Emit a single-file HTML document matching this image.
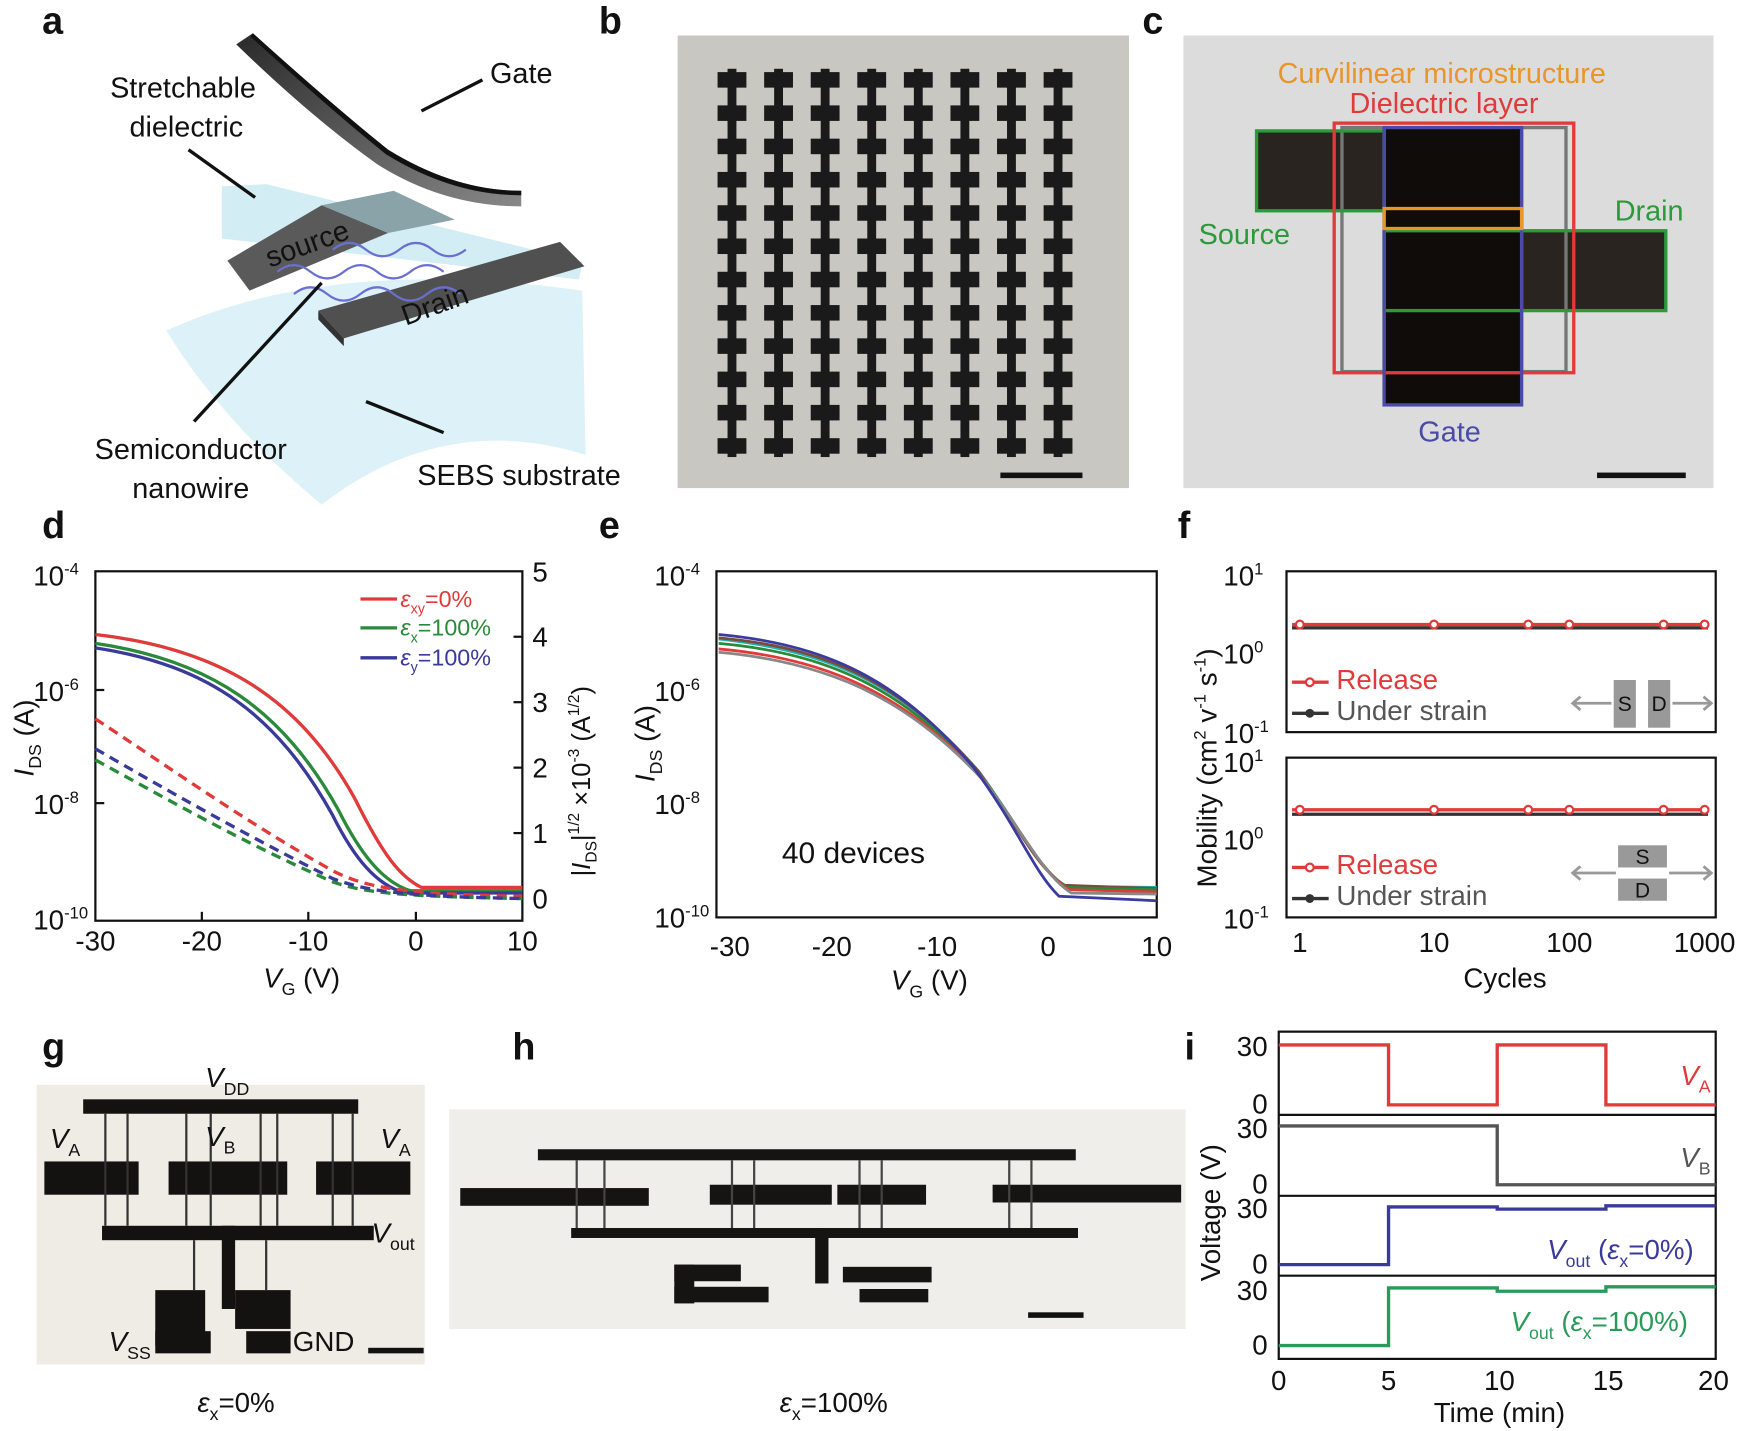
<!DOCTYPE html>
<html><head><meta charset="utf-8"><style>html,body{margin:0;padding:0;background:#fff}svg{display:block}</style></head><body>
<svg width="1739" height="1431" viewBox="0 0 1568 1290" preserveAspectRatio="none" font-family="Liberation Sans, Arial, sans-serif" xmlns="http://www.w3.org/2000/svg">
<rect width="1568" height="1290" fill="#fff"/>
<defs>
<linearGradient id="gg" x1="0" y1="0" x2="1" y2="1"><stop offset="0" stop-color="#2a2a2a"/><stop offset="1" stop-color="#888"/></linearGradient>
</defs>
<g font-weight="bold" font-size="34" fill="#111">
<text x="38" y="30">a</text><text x="540" y="30">b</text><text x="1030" y="30">c</text>
<text x="38" y="485">d</text><text x="540" y="485">e</text><text x="1062" y="485">f</text>
<text x="38" y="955">g</text><text x="462" y="955">h</text><text x="1068" y="955">i</text>
</g>
<!-- a illustration -->
<path d="M150,298 Q300,230 525,262 L528,410 Q400,370 290,455 Q200,380 150,298Z" fill="#d8f1f7" opacity="0.9"/>
<path d="M200,168 L240,166 L525,236 L522,252 L200,215Z" fill="#bfe6ef" opacity="0.7"/>
<path d="M205,235 L290,185 L350,210 L225,262Z" fill="#5a5a5a"/>
<path d="M290,185 L355,172 L410,198 L350,210Z" fill="#8aa3a8"/>
<path d="M287,280 L505,218 L527,240 L310,305Z" fill="#505050"/>
<path d="M287,280 L310,305 L310,312 L287,288Z" fill="#333"/>
<g fill="none" stroke="#6a6fd0" stroke-width="2">
<path d="M250,245 q15,-12 30,0 q15,12 30,0 q15,-12 30,0 q15,12 30,0 q15,-12 30,0"/>
<path d="M265,265 q15,-12 30,0 q15,12 30,0 q15,-12 30,0 q15,12 30,0 q15,-12 30,0"/>
<path d="M300,225 q15,-12 30,0 q15,12 30,0 q15,-12 30,0 q15,12 30,0"/>
</g>
<path d="M213,40 L228,30 Q300,95 350,135 Q410,172 470,172 L470,186 Q400,186 340,148 Q280,105 213,40Z" fill="url(#gg)"/>
<path d="M228,30 Q300,95 350,135 Q410,172 470,172 L470,176 Q408,176 348,139 Q298,99 226,33Z" fill="#111"/>
<g stroke="#111" stroke-width="3"><line x1="435" y1="72" x2="380" y2="100"/><line x1="170" y1="135" x2="230" y2="178"/><line x1="290" y1="255" x2="175" y2="380"/><line x1="330" y1="362" x2="400" y2="390"/></g>
<g font-size="26" fill="#111" text-anchor="middle">
<text x="470" y="75">Gate</text><text x="165" y="88">Stretchable</text><text x="168" y="123">dielectric</text>
<text x="172" y="414">Semiconductor</text><text x="172" y="449">nanowire</text><text x="468" y="437">SEBS substrate</text>
<text x="280" y="228" transform="rotate(-20 280 228)">source</text><text x="395" y="283" transform="rotate(-20 395 283)">Drain</text>
</g>
<!-- b photo -->
<rect x="611" y="32" width="407" height="408" fill="#c9c7c2"/>
<g fill="#1a1a1a">
<g id="col">
<rect x="647" y="65" width="26" height="14"/><rect x="647" y="95" width="26" height="14"/><rect x="647" y="125" width="26" height="14"/><rect x="647" y="155" width="26" height="14"/><rect x="647" y="185" width="26" height="14"/><rect x="647" y="215" width="26" height="14"/><rect x="647" y="245" width="26" height="14"/><rect x="647" y="275" width="26" height="14"/><rect x="647" y="305" width="26" height="14"/><rect x="647" y="335" width="26" height="14"/><rect x="647" y="365" width="26" height="14"/><rect x="647" y="395" width="26" height="14"/>
<rect x="656" y="62" width="8" height="350"/>
</g>
<use href="#col" x="42"/><use href="#col" x="84"/><use href="#col" x="126"/><use href="#col" x="168"/><use href="#col" x="210"/><use href="#col" x="252"/><use href="#col" x="294"/>
</g>
<rect x="902" y="426" width="74" height="5" fill="#111"/>
<!-- c photo -->
<rect x="1067" y="32" width="478" height="408" fill="#dcdcdc"/>
<rect x="1133" y="118" width="115" height="72" fill="#2a2420"/>
<rect x="1372" y="208" width="130" height="72" fill="#2a2420"/>
<rect x="1248" y="115" width="124" height="250" fill="#0f0c0a"/>
<rect x="1210" y="115" width="38" height="220" fill="none" stroke="#777" stroke-width="3"/>
<rect x="1372" y="115" width="40" height="220" fill="none" stroke="#777" stroke-width="3"/>
<rect x="1133" y="118" width="115" height="72" fill="none" stroke="#2a9a3a" stroke-width="3"/>
<rect x="1248" y="208" width="254" height="72" fill="none" stroke="#2a9a3a" stroke-width="3"/>
<rect x="1203" y="111" width="216" height="225" fill="none" stroke="#e03a3a" stroke-width="3"/>
<rect x="1248" y="115" width="124" height="250" fill="none" stroke="#4a4aa8" stroke-width="3"/>
<rect x="1248" y="188" width="124" height="18" fill="none" stroke="#e8952a" stroke-width="3"/>
<rect x="1440" y="426" width="80" height="5" fill="#111"/>
<g font-size="26" text-anchor="middle">
<text x="1300" y="75" fill="#e8952a">Curvilinear microstructure</text>
<text x="1302" y="102" fill="#e03a3a">Dielectric layer</text>
<text x="1122" y="220" fill="#2a9a3a">Source</text><text x="1487" y="199" fill="#2a9a3a">Drain</text>
<text x="1307" y="398" fill="#4a4aa8">Gate</text>
</g>
<!-- d -->
<g font-size="25" fill="#111">
<rect x="86" y="515" width="385" height="315" fill="none" stroke="#111" stroke-width="2"/>
<g stroke="#111" stroke-width="2"><line x1="86" y1="622" x2="94" y2="622"/><line x1="86" y1="724" x2="94" y2="724"/><line x1="471" y1="574" x2="463" y2="574"/><line x1="471" y1="633" x2="463" y2="633"/><line x1="471" y1="692" x2="463" y2="692"/><line x1="471" y1="751" x2="463" y2="751"/>
<line x1="182" y1="830" x2="182" y2="822"/><line x1="278" y1="830" x2="278" y2="822"/><line x1="375" y1="830" x2="375" y2="822"/></g>
<text x="30" y="528">10<tspan font-size="15" dy="-10">-4</tspan></text>
<text x="30" y="632">10<tspan font-size="15" dy="-10">-6</tspan></text>
<text x="30" y="734">10<tspan font-size="15" dy="-10">-8</tspan></text>
<text x="30" y="838">10<tspan font-size="15" dy="-10">-10</tspan></text>
<g text-anchor="start"><text x="480" y="524">5</text><text x="480" y="583">4</text><text x="480" y="642">3</text><text x="480" y="701">2</text><text x="480" y="760">1</text><text x="480" y="819">0</text></g>
<g text-anchor="middle"><text x="86" y="857">-30</text><text x="182" y="857">-20</text><text x="278" y="857">-10</text><text x="375" y="857">0</text><text x="471" y="857">10</text>
<text x="272" y="890"><tspan font-style="italic">V</tspan><tspan font-size="16" dy="7">G</tspan><tspan dy="-7"> (V)</tspan></text></g>
<text transform="translate(30,700) rotate(-90)"><tspan font-style="italic">I</tspan><tspan font-size="16" dy="7">DS</tspan><tspan dy="-7"> (A)</tspan></text>
<text transform="translate(532,790) rotate(-90)" font-size="23">|<tspan font-style="italic">I</tspan><tspan font-size="14" dy="6">DS</tspan><tspan dy="-6">|</tspan><tspan font-size="14" dy="-10">1/2</tspan><tspan dy="10"> ×10</tspan><tspan font-size="14" dy="-10">-3</tspan><tspan dy="10"> (A</tspan><tspan font-size="14" dy="-10">1/2</tspan><tspan dy="10">)</tspan></text>
</g>
<g fill="none" stroke-width="3">
<path d="M86,572 C200,585 270,630 320,720 C345,770 360,790 380,800 L471,800" stroke="#e03a3a"/>
<path d="M86,580 C190,595 255,640 305,730 C325,770 345,795 370,803 L471,803" stroke="#2a8a3a"/>
<path d="M86,584 C190,600 250,645 300,735 C320,775 340,798 365,805 L471,805" stroke="#3a3a9a"/>
<path d="M86,648 C150,690 220,740 300,785 C330,800 360,806 471,808" stroke="#e03a3a" stroke-dasharray="9,6"/>
<path d="M86,685 C150,720 220,760 300,795 C330,805 360,808 471,810" stroke="#2a8a3a" stroke-dasharray="9,6"/>
<path d="M86,675 C150,712 220,752 300,792 C330,803 360,808 471,810" stroke="#3a3a9a" stroke-dasharray="9,6"/>
<line x1="325" y1="540" x2="358" y2="540" stroke="#e03a3a"/><line x1="325" y1="566" x2="358" y2="566" stroke="#2a8a3a"/><line x1="325" y1="593" x2="358" y2="593" stroke="#3a3a9a"/>
</g>
<g font-size="21">
<text x="361" y="547" fill="#e03a3a"><tspan font-style="italic">ε</tspan><tspan font-size="13" dy="6">xy</tspan><tspan dy="-6">=0%</tspan></text>
<text x="361" y="573" fill="#2a8a3a"><tspan font-style="italic">ε</tspan><tspan font-size="13" dy="6">x</tspan><tspan dy="-6">=100%</tspan></text>
<text x="361" y="600" fill="#3a3a9a"><tspan font-style="italic">ε</tspan><tspan font-size="13" dy="6">y</tspan><tspan dy="-6">=100%</tspan></text>
</g>
<!-- e -->
<g font-size="25" fill="#111">
<rect x="646" y="515" width="397" height="312" fill="none" stroke="#111" stroke-width="2"/>
<text x="590" y="528">10<tspan font-size="15" dy="-10">-4</tspan></text>
<text x="590" y="632">10<tspan font-size="15" dy="-10">-6</tspan></text>
<text x="590" y="734">10<tspan font-size="15" dy="-10">-8</tspan></text>
<text x="590" y="836">10<tspan font-size="15" dy="-10">-10</tspan></text>
<g text-anchor="middle"><text x="658" y="862">-30</text><text x="750" y="862">-20</text><text x="845" y="862">-10</text><text x="945" y="862">0</text><text x="1043" y="862">10</text>
<text x="838" y="892"><tspan font-style="italic">V</tspan><tspan font-size="16" dy="7">G</tspan><tspan dy="-7"> (V)</tspan></text></g>
<text transform="translate(590,705) rotate(-90)"><tspan font-style="italic">I</tspan><tspan font-size="16" dy="7">DS</tspan><tspan dy="-7"> (A)</tspan></text>
<text x="705" y="778" font-size="27">40 devices</text>
</g>
<g fill="none" stroke-width="2.5">
<path d="M648,576 C760,588 822,626 883,696 C921,748 937,784 961,799 L1043,800" stroke="#20b0b0"/>
<path d="M648,575 C760,585 820,625 882,695 C920,748 935,783 960,798 L1043,801" stroke="#7a4a3a"/>
<path d="M648,580 C760,590 822,630 885,700 C922,750 938,785 962,800 L1043,802" stroke="#2a8a3a"/>
<path d="M648,585 C760,595 824,635 887,703 C924,753 940,788 964,802 L1043,804" stroke="#e03a3a"/>
<path d="M648,588 C760,598 826,638 889,706 C926,756 942,790 966,805 L1043,806" stroke="#888"/>
<path d="M648,572 C758,582 818,622 878,692 C918,746 932,786 955,808 L1043,812" stroke="#3a3aa0"/>
</g>
<!-- f -->
<g font-size="25" fill="#111">
<rect x="1160" y="515" width="387" height="145" fill="none" stroke="#111" stroke-width="2"/>
<rect x="1160" y="683" width="387" height="144" fill="none" stroke="#111" stroke-width="2"/>
<text x="1103" y="528">10<tspan font-size="15" dy="-10">1</tspan></text><text x="1103" y="598">10<tspan font-size="15" dy="-10">0</tspan></text><text x="1103" y="670">10<tspan font-size="15" dy="-10">-1</tspan></text>
<text x="1103" y="696">10<tspan font-size="15" dy="-10">1</tspan></text><text x="1103" y="766">10<tspan font-size="15" dy="-10">0</tspan></text><text x="1103" y="837">10<tspan font-size="15" dy="-10">-1</tspan></text>
<g text-anchor="middle"><text x="1172" y="858">1</text><text x="1293" y="858">10</text><text x="1415" y="858">100</text><text x="1537" y="858">1000</text><text x="1357" y="890">Cycles</text></g>
<text transform="translate(1097,800) rotate(-90)">Mobility (cm<tspan font-size="15" dy="-10">2</tspan><tspan dy="10"> v</tspan><tspan font-size="15" dy="-10">-1</tspan><tspan dy="10"> s</tspan><tspan font-size="15" dy="-10">-1</tspan><tspan dy="10">)</tspan></text>
<text x="1205" y="621" fill="#e03a3a">Release</text><text x="1205" y="649" fill="#555">Under strain</text>
<text x="1205" y="788" fill="#e03a3a">Release</text><text x="1205" y="816" fill="#555">Under strain</text>
</g>
<g stroke-width="3" fill="#fff">
<line x1="1165" y1="563" x2="1540" y2="563" stroke="#e03a3a"/><line x1="1165" y1="566" x2="1540" y2="566" stroke="#333"/>
<line x1="1165" y1="730" x2="1540" y2="730" stroke="#e03a3a"/><line x1="1165" y1="734" x2="1540" y2="734" stroke="#333"/>
<line x1="1165" y1="615" x2="1198" y2="615" stroke="#e03a3a"/><line x1="1165" y1="643" x2="1198" y2="643" stroke="#333"/>
<line x1="1165" y1="782" x2="1198" y2="782" stroke="#e03a3a"/><line x1="1165" y1="810" x2="1198" y2="810" stroke="#333"/>
<g stroke="#e03a3a" stroke-width="2"><circle cx="1172" cy="563" r="3.5"/><circle cx="1293" cy="563" r="3.5"/><circle cx="1378" cy="563" r="3.5"/><circle cx="1415" cy="563" r="3.5"/><circle cx="1500" cy="563" r="3.5"/><circle cx="1537" cy="563" r="3.5"/><circle cx="1181" cy="615" r="3.5"/>
<circle cx="1172" cy="730" r="3.5"/><circle cx="1293" cy="730" r="3.5"/><circle cx="1378" cy="730" r="3.5"/><circle cx="1415" cy="730" r="3.5"/><circle cx="1500" cy="730" r="3.5"/><circle cx="1537" cy="730" r="3.5"/><circle cx="1181" cy="782" r="3.5"/></g>
<g fill="#333" stroke="none"><circle cx="1181" cy="643" r="4"/><circle cx="1181" cy="810" r="4"/></g>
</g>
<g fill="#999"><rect x="1455" y="613" width="20" height="43"/><rect x="1486" y="613" width="20" height="43"/><rect x="1459" y="762" width="44" height="20"/><rect x="1459" y="792" width="44" height="20"/></g>
<g stroke="#999" stroke-width="2.5" fill="none"><line x1="1418" y1="634" x2="1453" y2="634"/><line x1="1508" y1="634" x2="1543" y2="634"/><line x1="1418" y1="787" x2="1457" y2="787"/><line x1="1505" y1="787" x2="1543" y2="787"/>
<path d="M1425,628 L1418,634 L1425,640"/><path d="M1536,628 L1543,634 L1536,640"/><path d="M1425,781 L1418,787 L1425,793"/><path d="M1536,781 L1543,787 L1536,793"/></g>
<g font-size="19" fill="#111" text-anchor="middle"><text x="1465" y="641">S</text><text x="1496" y="641">D</text><text x="1481" y="779">S</text><text x="1481" y="809">D</text></g>
<!-- g photo -->
<rect x="33" y="978" width="350" height="252" fill="#efece6"/>
<g fill="#141210">
<rect x="75" y="991" width="248" height="13"/><rect x="40" y="1047" width="85" height="30"/><rect x="152" y="1047" width="107" height="30"/><rect x="285" y="1047" width="85" height="30"/>
<rect x="92" y="1105" width="245" height="13"/><rect x="200" y="1105" width="12" height="75"/><rect x="140" y="1163" width="45" height="50"/><rect x="212" y="1163" width="50" height="35"/><rect x="140" y="1200" width="50" height="20"/><rect x="222" y="1200" width="40" height="20"/>
</g>
<g stroke="#333" stroke-width="2"><line x1="95" y1="1004" x2="95" y2="1105"/><line x1="115" y1="1004" x2="115" y2="1105"/><line x1="168" y1="1004" x2="168" y2="1105"/><line x1="190" y1="1004" x2="190" y2="1105"/><line x1="235" y1="1004" x2="235" y2="1105"/><line x1="250" y1="1004" x2="250" y2="1105"/><line x1="300" y1="1004" x2="300" y2="1105"/><line x1="318" y1="1004" x2="318" y2="1105"/><line x1="175" y1="1118" x2="175" y2="1163"/><line x1="240" y1="1118" x2="240" y2="1163"/></g>
<rect x="332" y="1215" width="50" height="5" fill="#111"/>
<g font-size="25" fill="#111">
<text x="185" y="980"><tspan font-style="italic">V</tspan><tspan font-size="16" dy="7">DD</tspan></text>
<text x="45" y="1035"><tspan font-style="italic">V</tspan><tspan font-size="16" dy="7">A</tspan></text>
<text x="185" y="1033"><tspan font-style="italic">V</tspan><tspan font-size="16" dy="7">B</tspan></text>
<text x="343" y="1035"><tspan font-style="italic">V</tspan><tspan font-size="16" dy="7">A</tspan></text>
<text x="335" y="1120"><tspan font-style="italic">V</tspan><tspan font-size="16" dy="7">out</tspan></text>
<text x="98" y="1218"><tspan font-style="italic">V</tspan><tspan font-size="16" dy="7">SS</tspan></text>
<text x="264" y="1218">GND</text>
<text x="178" y="1273"><tspan font-style="italic">ε</tspan><tspan font-size="16" dy="7">x</tspan><tspan dy="-7">=0%</tspan></text>
<text x="703" y="1273"><tspan font-style="italic">ε</tspan><tspan font-size="16" dy="7">x</tspan><tspan dy="-7">=100%</tspan></text>
</g>
<!-- h photo -->
<rect x="405" y="1000" width="664" height="198" fill="#f0eeea"/>
<g fill="#161412">
<rect x="485" y="1036" width="485" height="10"/><rect x="415" y="1071" width="170" height="16"/><rect x="640" y="1068" width="110" height="18"/><rect x="755" y="1068" width="80" height="18"/><rect x="895" y="1068" width="170" height="16"/>
<rect x="515" y="1107" width="457" height="9"/><rect x="735" y="1107" width="12" height="50"/><rect x="608" y="1140" width="60" height="15"/><rect x="608" y="1140" width="18" height="35"/><rect x="608" y="1160" width="85" height="14"/><rect x="760" y="1142" width="80" height="14"/><rect x="775" y="1162" width="62" height="12"/>
</g>
<g stroke="#444" stroke-width="2"><line x1="520" y1="1046" x2="520" y2="1107"/><line x1="545" y1="1046" x2="545" y2="1107"/><line x1="660" y1="1046" x2="660" y2="1107"/><line x1="680" y1="1046" x2="680" y2="1107"/><line x1="775" y1="1046" x2="775" y2="1107"/><line x1="795" y1="1046" x2="795" y2="1107"/><line x1="910" y1="1046" x2="910" y2="1107"/><line x1="930" y1="1046" x2="930" y2="1107"/></g>
<rect x="927" y="1183" width="50" height="5" fill="#111"/>
<!-- i -->
<g stroke="#111" stroke-width="2" fill="none"><rect x="1153" y="930" width="394" height="295"/><line x1="1153" y1="1005" x2="1547" y2="1005"/><line x1="1153" y1="1078" x2="1547" y2="1078"/><line x1="1153" y1="1150" x2="1547" y2="1150"/></g>
<g fill="none" stroke-width="3">
<path d="M1153,942 L1252,942 L1252,996 L1350,996 L1350,942 L1448,942 L1448,996 L1547,996" stroke="#e03a3a"/>
<path d="M1153,1015 L1350,1015 L1350,1068 L1547,1068" stroke="#555"/>
<path d="M1153,1140 L1252,1140 L1252,1088 L1350,1088 L1350,1090 L1448,1090 L1448,1087 L1547,1087" stroke="#3a3a9a"/>
<path d="M1153,1213 L1252,1213 L1252,1161 L1350,1161 L1350,1164 L1448,1164 L1448,1160 L1547,1160" stroke="#2a9a5a"/>
</g>
<g font-size="25" fill="#111">
<g text-anchor="end"><text x="1143" y="952">30</text><text x="1143" y="1004">0</text><text x="1143" y="1026">30</text><text x="1143" y="1076">0</text><text x="1143" y="1098">30</text><text x="1143" y="1148">0</text><text x="1143" y="1172">30</text><text x="1143" y="1221">0</text></g>
<g text-anchor="middle"><text x="1153" y="1253">0</text><text x="1252" y="1253">5</text><text x="1352" y="1253">10</text><text x="1450" y="1253">15</text><text x="1545" y="1253">20</text><text x="1352" y="1282">Time (min)</text></g>
<text transform="translate(1100,1155) rotate(-90)">Voltage (V)</text>
<text x="1515" y="978" fill="#e03a3a"><tspan font-style="italic">V</tspan><tspan font-size="16" dy="7">A</tspan></text>
<text x="1515" y="1052" fill="#555"><tspan font-style="italic">V</tspan><tspan font-size="16" dy="7">B</tspan></text>
<text x="1395" y="1135" fill="#3a3a9a"><tspan font-style="italic">V</tspan><tspan font-size="16" dy="7">out</tspan><tspan dy="-7"> (</tspan><tspan font-style="italic">ε</tspan><tspan font-size="16" dy="7">x</tspan><tspan dy="-7">=0%)</tspan></text>
<text x="1362" y="1200" fill="#2a9a5a"><tspan font-style="italic">V</tspan><tspan font-size="16" dy="7">out</tspan><tspan dy="-7"> (</tspan><tspan font-style="italic">ε</tspan><tspan font-size="16" dy="7">x</tspan><tspan dy="-7">=100%)</tspan></text>
</g>
</svg>
</body></html>
